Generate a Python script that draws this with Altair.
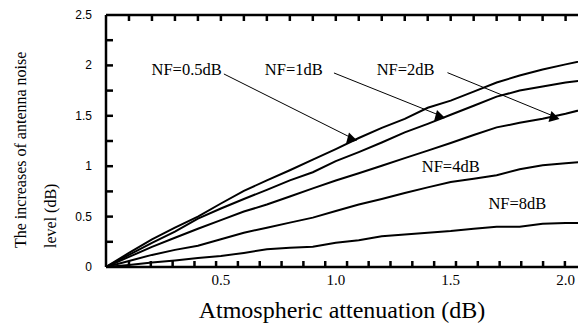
import altair as alt
import pandas as pd

# ---- data ----
atten = [0.0, 0.1, 0.2, 0.3, 0.4, 0.5, 0.6, 0.7, 0.8, 0.9, 1.0,
         1.1, 1.2, 1.3, 1.4, 1.5, 1.6, 1.7, 1.8, 1.9, 2.0, 2.1]
nf05 = [0, 0.14, 0.275, 0.39, 0.50, 0.63, 0.755, 0.86, 0.96, 1.065, 1.17,
        1.28, 1.38, 1.47, 1.58, 1.65, 1.74, 1.83, 1.90, 1.96, 2.01, 2.06]
nf1 = [0, 0.12, 0.24, 0.35, 0.48, 0.58, 0.675, 0.765, 0.86, 0.94, 1.05,
       1.14, 1.235, 1.335, 1.42, 1.51, 1.60, 1.69, 1.75, 1.79, 1.83, 1.857]
nf2 = [0, 0.10, 0.20, 0.29, 0.38, 0.465, 0.55, 0.62, 0.70, 0.78, 0.858,
       0.93, 1.005, 1.08, 1.155, 1.23, 1.31, 1.385, 1.43, 1.47, 1.52, 1.578]
nf4 = [0, 0.06, 0.12, 0.17, 0.21, 0.275, 0.34, 0.39, 0.44, 0.49, 0.555,
       0.62, 0.675, 0.735, 0.79, 0.843, 0.875, 0.91, 0.97, 1.01, 1.03, 1.045]
nf8 = [0, 0.02, 0.045, 0.065, 0.09, 0.11, 0.14, 0.175, 0.19, 0.20, 0.24,
       0.265, 0.305, 0.323, 0.34, 0.357, 0.38, 0.40, 0.40, 0.43, 0.437, 0.437]
series_names = ["NF=0.5dB", "NF=1dB", "NF=2dB", "NF=4dB", "NF=8dB"]

# annotation labels
label_text = ["NF=0.5dB", "NF=1dB", "NF=2dB", "NF=4dB", "NF=8dB"]
label_x = [0.351, 0.817, 1.304, 1.500, 1.790]
label_y = [1.954, 1.954, 1.954, 0.99, 0.625]

# arrows (start -> head)
arrow_x1 = [0.513, 0.992, 1.486]
arrow_y1 = [1.915, 1.925, 1.928]
head_x = [1.063, 1.446, 1.944]
head_y = [1.287, 1.51, 1.50]

# axis ticks / labels / titles
x_title = "Atmospheric attenuation (dB)"
y_title = "The increases of antenna noise\nlevel (dB)"
x_label_values = [0.5, 1.0, 1.5, 2.0]
y_label_values = [0, 0.5, 1, 1.5, 2, 2.5]
y_tick_values = [0.25, 0.5, 0.75, 1, 1.25, 1.5, 1.75, 2, 2.25]
top_tick_values = [0.1, 0.2, 0.3, 0.4, 0.5, 0.6, 0.7, 0.8, 0.9, 1.0,
                   1.1, 1.2, 1.3, 1.4, 1.5, 1.6, 1.7, 1.8, 1.9, 2.0]
bottom_tick_values = [0.1, 0.195, 0.29, 0.385, 0.479, 0.574, 0.669, 0.764,
                      0.859, 0.954, 1.049, 1.143, 1.238, 1.333, 1.428,
                      1.523, 1.618, 1.713, 1.807, 1.902, 1.997]

X_DOMAIN = [0, 2.054]
Y_DOMAIN = [0, 2.5]

# ---- tables ----
rows = []
for name, vals in zip(series_names, [nf05, nf1, nf2, nf4, nf8]):
    for xv, yv in zip(atten, vals):
        rows.append({"atten": xv, "inc": yv, "series": name})
df = pd.DataFrame(rows)
labels_df = pd.DataFrame({"lx": label_x, "ly": label_y, "t": label_text})
arrows_df = pd.DataFrame({"x1": arrow_x1, "y1": arrow_y1, "x2": head_x, "y2": head_y})
heads_df = pd.DataFrame({"hx": head_x, "hy": head_y})
ytick_df = pd.DataFrame({"v": y_tick_values})
btick_df = pd.DataFrame({"v": bottom_tick_values})
ttick_df = pd.DataFrame({"v": top_tick_values})
xlab_df = pd.DataFrame({"v": x_label_values})
ylab_df = pd.DataFrame({"v": y_label_values})
xtitle_df = pd.DataFrame({"t": [x_title]})
ytitle_df = pd.DataFrame({"t": [y_title]})

xs = alt.Scale(domain=X_DOMAIN, nice=False, zero=False)
ys = alt.Scale(domain=Y_DOMAIN, nice=False, zero=False)

SERIF = "Liberation Serif"
SANS = "Liberation Sans"
W, H = 472, 252


def X(field):
    return alt.X(field, type="quantitative", scale=xs, axis=None)


def Y(field):
    return alt.Y(field, type="quantitative", scale=ys, axis=None)


lines = alt.Chart(df).mark_line(color="black", strokeWidth=2, clip=True).encode(
    x=X("atten"), y=Y("inc"), detail="series:N",
)

text = alt.Chart(labels_df).mark_text(
    font=SERIF, fontSize=16.5, color="black", baseline="middle", align="center"
).encode(x=X("lx"), y=Y("ly"), text="t:N")

rules = alt.Chart(arrows_df).mark_rule(color="black", strokeWidth=1).encode(
    x=X("x1"), x2="x2:Q", y=Y("y1"), y2="y2:Q",
)

heads = alt.Chart(heads_df).mark_point(
    shape="triangle-up", size=130, filled=True, color="black", opacity=1, angle=345
).encode(x=X("hx"), y=Y("hy"))

# frame lines
leftline = alt.Chart(xtitle_df).mark_rule(color="black", strokeWidth=2.5).encode(
    x=alt.value(0), y=alt.value(0), y2=alt.value(H),
)
bottomline = alt.Chart(xtitle_df).mark_rule(color="black", strokeWidth=2.5).encode(
    x=alt.value(0), x2=alt.value(W), y=alt.value(H),
)
topline = alt.Chart(ytitle_df).mark_rule(color="black", strokeWidth=2.5).encode(
    x=alt.value(0), x2=alt.value(W), y=alt.value(0),
)

# inward tick marks
yticks = alt.Chart(ytick_df).mark_rule(color="black", strokeWidth=2.5).encode(
    y=Y("v"), x=alt.value(0), x2=alt.value(7),
)
bticks = alt.Chart(btick_df).mark_rule(color="black", strokeWidth=2.5).encode(
    x=X("v"), y=alt.value(H), y2=alt.value(H - 6),
)
tticks = alt.Chart(ttick_df).mark_rule(color="black", strokeWidth=2.5).encode(
    x=X("v"), y=alt.value(0), y2=alt.value(6),
)

# tick labels and titles
xlabels = alt.Chart(xlab_df).mark_text(
    font=SERIF, fontSize=15, color="black", baseline="top", align="center"
).encode(x=X("v"), y=alt.value(H + 6), text=alt.Text("v:Q", format=".1f"))
ylabels = alt.Chart(ylab_df).mark_text(
    font=SANS, fontSize=12, color="black", baseline="middle", align="right"
).encode(y=Y("v"), x=alt.value(-14), text=alt.Text("v:Q", format="~g"))
xtitle = alt.Chart(xtitle_df).mark_text(
    font=SERIF, fontSize=24, color="black", baseline="alphabetic", align="center"
).encode(x=alt.value(236), y=alt.value(H + 51), text="t:N")
ytitle = alt.Chart(ytitle_df).mark_text(
    font=SERIF, fontSize=16, color="black", baseline="top", align="left",
    angle=270, lineBreak="\n", lineHeight=30
).encode(x=alt.value(-93), y=alt.value(233), text="t:N")

chart = alt.layer(
    lines, text, rules, heads, leftline, bottomline, topline,
    yticks, bticks, tticks, xlabels, ylabels, xtitle, ytitle
).properties(
    width=W, height=H,
    padding={"left": 98, "top": 7, "right": 0, "bottom": 57},
    autosize=alt.AutoSizeParams(type="none"),
    background="white",
).configure_view(stroke=None)

chart.save("out.html", embed_options={"renderer": "svg", "actions": False})
